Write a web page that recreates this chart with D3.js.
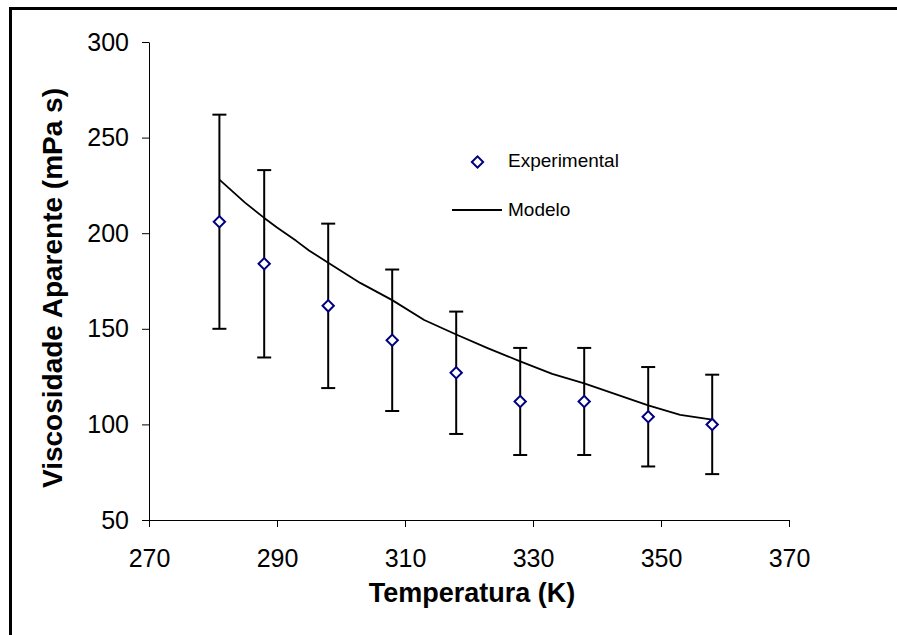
<!DOCTYPE html>
<html>
<head>
<meta charset="utf-8">
<script src="https://cdn.jsdelivr.net/npm/d3@7"></script>
<style>
  body { margin: 0; background: #fff; }
  svg { display: block; font-family: "Liberation Sans", Arial, sans-serif; }
</style>
</head>
<body>
<div id="plot"></div>
<script>
// experimental points (temperature K, apparent viscosity mPa s, error)
const temps = [281, 288, 298, 308, 318, 328, 338, 348, 358];
const visc = [206, 184, 162, 144, 127, 112, 112, 104, 100];
const errs = [56, 49, 43, 37, 32, 28, 28, 26, 26];

// model curve
const modelT = [281, 283, 285, 288, 290, 293, 295, 298, 303, 308, 313, 318, 323, 328, 333, 338, 343, 348, 353, 358];
const modelV = [228, 222, 216, 208, 203, 196, 191, 184.5, 174, 165, 154.6, 147, 139.8, 133, 126.4, 121.5, 115.7, 110, 105, 102.5];

const xTicks = [270, 290, 310, 330, 350, 370];
const yTicks = [50, 100, 150, 200, 250, 300];
const legendLabels = ["Experimental", "Modelo"];

const W = 897, H = 635;
const margin = { top: 42, left: 149, right: 108, bottom: 115 };
const width = W - margin.left - margin.right;
const height = H - margin.top - margin.bottom;

const svg = d3.select("#plot").append("svg")
  .attr("width", W)
  .attr("height", H);

// outer frame (runs off the right/bottom edges)
svg.append("rect")
  .attr("x", 10.5).attr("y", 8.5)
  .attr("width", 2000).attr("height", 2000)
  .attr("fill", "none")
  .attr("stroke", "#000")
  .attr("stroke-width", 3);

const g = svg.append("g")
  .attr("transform", "translate(" + margin.left + "," + margin.top + ")");

const x = d3.scaleLinear().domain([270, 370]).range([0, width]);
const y = d3.scaleLinear().domain([50, 300]).range([height, 0]);

const xAxis = g.append("g")
  .attr("transform", "translate(0," + height + ")")
  .call(d3.axisBottom(x).tickValues(xTicks).tickSizeInner(7).tickSizeOuter(0).tickPadding(22));

const yAxis = g.append("g")
  .call(d3.axisLeft(y).tickValues(yTicks).tickSizeInner(7).tickSizeOuter(0).tickPadding(13));

[xAxis, yAxis].forEach(a => {
  a.selectAll("text").attr("font-size", 25).attr("fill", "#000")
    .attr("font-family", "'Liberation Sans', Arial, sans-serif");
  a.selectAll("line,path").attr("stroke", "#000");
});

// axis titles
svg.append("text")
  .attr("x", 472).attr("y", 602)
  .attr("text-anchor", "middle")
  .attr("font-size", 27).attr("font-weight", "bold")
  .text("Temperatura (K)");

svg.append("text")
  .attr("transform", "translate(62,288) rotate(-90)")
  .attr("text-anchor", "middle")
  .attr("font-size", 28).attr("font-weight", "bold")
  .text("Viscosidade Aparente (mPa s)");

// model line
const line = d3.line()
  .x((d, i) => x(modelT[i]))
  .y(d => y(d));

g.append("path")
  .datum(modelV)
  .attr("fill", "none")
  .attr("stroke", "#000")
  .attr("stroke-width", 1.8)
  .attr("stroke-linejoin", "round")
  .attr("d", line);

// error bars
const eb = g.selectAll(".err").data(temps).enter().append("g").attr("class", "err");
eb.append("line")
  .attr("x1", d => x(d)).attr("x2", d => x(d))
  .attr("y1", (d, i) => y(visc[i] + errs[i]))
  .attr("y2", (d, i) => y(visc[i] - errs[i]));
eb.append("line")
  .attr("x1", d => x(d) - 7).attr("x2", d => x(d) + 7)
  .attr("y1", (d, i) => y(visc[i] + errs[i]))
  .attr("y2", (d, i) => y(visc[i] + errs[i]));
eb.append("line")
  .attr("x1", d => x(d) - 7).attr("x2", d => x(d) + 7)
  .attr("y1", (d, i) => y(visc[i] - errs[i]))
  .attr("y2", (d, i) => y(visc[i] - errs[i]));
eb.selectAll("line").attr("stroke", "#000").attr("stroke-width", 2);

// diamond markers
const diamond = d3.symbol().type(d3.symbolSquare).size(64);
g.selectAll(".pt").data(temps).enter().append("path")
  .attr("class", "pt")
  .attr("d", diamond)
  .attr("transform", (d, i) => "translate(" + x(d) + "," + y(visc[i]) + ") rotate(45)")
  .attr("fill", "#fff")
  .attr("stroke", "#000080")
  .attr("stroke-width", 2);

// legend
const leg = svg.append("g");
leg.append("path")
  .attr("d", diamond)
  .attr("transform", "translate(477.5,162) rotate(45)")
  .attr("fill", "#fff")
  .attr("stroke", "#000080")
  .attr("stroke-width", 2);
leg.append("line")
  .attr("x1", 452).attr("x2", 502)
  .attr("y1", 210).attr("y2", 210)
  .attr("stroke", "#000").attr("stroke-width", 1.8);
leg.selectAll(".lt").data(legendLabels).enter().append("text")
  .attr("x", 508)
  .attr("y", (d, i) => 167 + i * 49)
  .attr("font-size", 19)
  .text(d => d);
</script>
</body>
</html>
